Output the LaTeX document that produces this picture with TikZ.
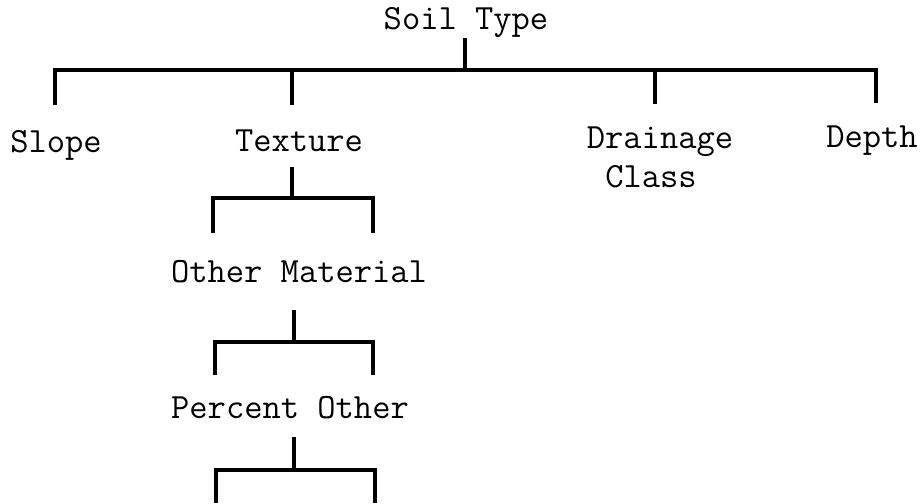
\documentclass[tikz,border=0pt]{standalone}
\begin{document}
\begin{tikzpicture}[x=1pt,y=-1pt,
    item/.style={anchor=base,inner sep=1pt,font=\ttfamily\fontsize{35.5}{42}\selectfont},
    branch/.style={line width=3.2pt}]
  \useasboundingbox (0,0) rectangle (923,503);

  % the labels
  \node[item] (soil)     at (466,30)  {Soil Type};
  \node[item] (slope)    at (56,152)  {Slope};
  \node[item] (texture)  at (299,151) {Texture};
  \node[item] (drainage) at (660,148) {Drainage};
  \node[item] (class)    at (651,187) {Class};
  \node[item] (depth)    at (872,147) {Depth};
  \node[item] (other)    at (299,282) {Other Material};
  \node[item] (percent)  at (290,418) {Percent Other};

  % the ends of the lines
  \coordinate (s0) at (465,38);  \coordinate (b0) at (465,70);
  \coordinate (d1) at (55,105);  \coordinate (d2) at (292,105);
  \coordinate (d3) at (655,104); \coordinate (d4) at (876,103);
  \coordinate (s1) at (292,167); \coordinate (b1) at (292,198);
  \coordinate (e1) at (213,233); \coordinate (f1) at (373,233);
  \coordinate (s2) at (294,310); \coordinate (b2) at (294,342);
  \coordinate (e2) at (215,375); \coordinate (f2) at (373,375);
  \coordinate (s3) at (294,437); \coordinate (b3) at (294,470);
  \coordinate (e3) at (216,503); \coordinate (f3) at (375,503);

  % soil type
  \draw[branch] (s0) -- (b0);
  \draw[branch] (d1) |- (b0) -| (d4);
  \draw[branch] (d2) -- (d2 |- b0);
  \draw[branch] (d3) -- (d3 |- b0);

  % texture, other material, percent other
  \draw[branch] (s1) -- (b1);
  \draw[branch] (e1) |- (b1) -| (f1);
  \draw[branch] (s2) -- (b2);
  \draw[branch] (e2) |- (b2) -| (f2);
  \draw[branch] (s3) -- (b3);
  \draw[branch] (e3) |- (b3) -| (f3);
\end{tikzpicture}
\end{document}
